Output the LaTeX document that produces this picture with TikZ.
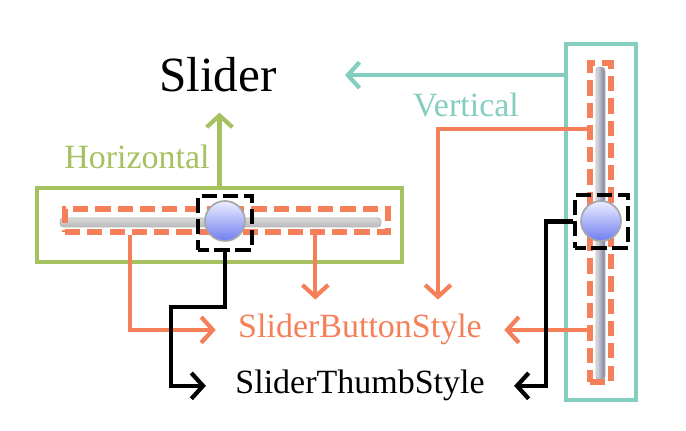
\documentclass[tikz,border=0pt]{standalone}
\usepackage{fontspec}
\setmainfont{Liberation Serif}
\usetikzlibrary{arrows.meta,fit,calc}
\definecolor{hgreen}{RGB}{166,193,96}
\definecolor{vteal}{RGB}{132,206,192}
\definecolor{borange}{RGB}{244,127,88}
\definecolor{knobtop}{RGB}{236,238,255}
\definecolor{knobbot}{RGB}{112,126,240}
\definecolor{trackdark}{RGB}{120,124,160}

\begin{document}
\begin{tikzpicture}[x=0.03cm,y=-0.03cm]
            \tikzstyle{lbl}=[anchor=base, font=\fontsize{29}{31}\selectfont]
            \tikzstyle{frame}=[draw, line width=3.8pt, inner sep=0pt]
            \tikzstyle{partbox}=[draw=borange, line width=4.6pt, dash pattern=on 13pt off 6pt, inner sep=0pt]
            \tikzstyle{knobbox}=[draw=black, line width=3.8pt, dash pattern=on 13pt off 5pt, dash phase=4pt, inner sep=0pt]
            \tikzstyle{knob}=[circle, minimum size=1.2cm, inner sep=0pt, top color=knobtop, bottom color=knobbot, draw=gray!70, line width=1.4pt]
            \tikzstyle{tip}=[-{Straight Barb[length=10pt,width=22pt]}]
            \tikzstyle{hline}=[tip, draw=hgreen, line width=3.6pt]
            \tikzstyle{vline}=[tip, draw=vteal, line width=3.6pt]
            \tikzstyle{btnline}=[tip, draw=borange, line width=3.6pt]
            \tikzstyle{thumbline}=[tip, draw=black, line width=3.6pt]
            \useasboundingbox (0,0) rectangle (686,431);
            \node[anchor=base, font=\fontsize{42}{44}\selectfont, inner xsep=58pt, inner ysep=17pt] (slider) at (218,92) {Slider};
            \node[lbl, text=hgreen] (horiz) at (137,169) {Horizontal};
            \node[lbl, text=vteal] (vert) at (466,117) {Vertical};
            \node[lbl, text=borange, inner xsep=19pt, inner ysep=12.5pt] (button) at (360,338) {SliderButtonStyle};
            \node[lbl, inner xsep=25pt] (thumb) at (360,394) {SliderThumbStyle};
            \node[frame, draw=hgreen, fit={(37,188) (402,262)}] (hbox) {};
            \node[frame, draw=vteal, fit={(566,44) (636,400)}] (vbox) {};
            \shade[top color=gray!30, middle color=white, bottom color=gray!55, draw=gray!55, line width=0.8pt, rounded corners=3pt] (60,218) rectangle (381,227);
            \shade[left color=gray!25, middle color=white, right color=trackdark, draw=gray!55, line width=0.8pt, rounded corners=3pt] (596,67) rectangle (605,380);
            \node[partbox, fit={(65,209) (388,232)}] (htrack) {};
            \node[partbox, fit={(590,63) (611,382)}] (vtrack) {};
            \node[knob] (hball) at (225,221) {};
            \node[knob] (vball) at (601,221) {};
            \node[knobbox, fit={(198,196) (252,250)}] (hknob) {};
            \node[knobbox, fit={(575,195) (628,248)}] (vknob) {};
            \draw[hline] (hbox.north) -- (hbox.north |- slider.south);
            \draw[vline] (vbox.west |- slider.east) -- (slider.east);
            \coordinate (hleft) at ($(htrack.south west)+(68,0)$);
            \coordinate (hright) at ($(htrack.south west)+(253,0)$);
            \coordinate (vtop) at ($(vtrack.north west)+(0,69)$);
            \coordinate (bnorth) at ($(button.north)+(78,0)$);
            \draw[btnline] (hleft) |- (button.west);
            \draw[btnline] (hright) -- (hright |- button.north);
            \draw[btnline] (vtop) -| (bnorth);
            \draw[btnline] (vtrack.west |- button.east) -- (button.east);
            \draw[thumbline] (hknob.south) -- ++(0,55) -| ($(thumb.west)+(-35,0)$) -- (thumb.west);
            \draw[thumbline] (vknob.west) -| ($(thumb.east)+(32,0)$) -- (thumb.east);
\end{tikzpicture}
\end{document}
